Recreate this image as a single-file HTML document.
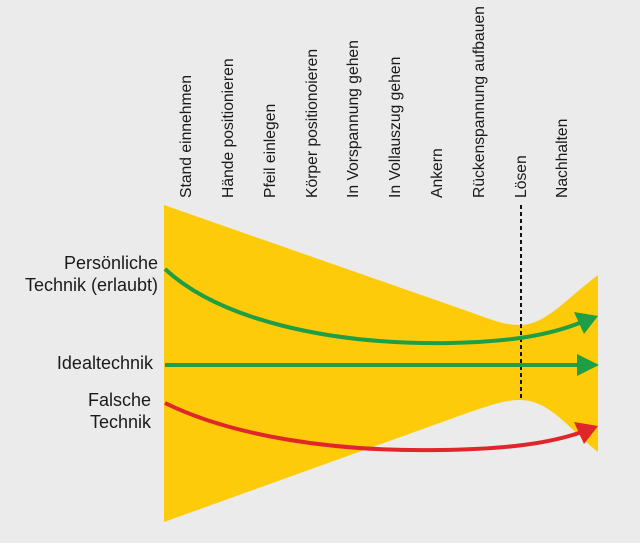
<!DOCTYPE html>
<html><head><meta charset="utf-8"><style>
html,body{margin:0;padding:0;background:#ebebeb;}
svg{display:block;}
text{font-family:"Liberation Sans",sans-serif;fill:#1a1a1a;}
</style></head><body>
<svg width="640" height="543" viewBox="0 0 640 543">
<rect width="640" height="543" fill="#ebebeb"/>
<path d="M164,205 L470,312 C495,321 505,325 520,325 C545,325 565,300 598,275 L598,452 C570,430 550,400 520,400 C505,400 495,404 470,412 L164,522 Z" fill="#fdcb0a"/>
<line x1="521" y1="205" x2="521" y2="400" stroke="#111" stroke-width="2" stroke-dasharray="4,3"/>
<path d="M165,269 C220,320 330,345 450,343 C510,342 550,335 582,322" fill="none" stroke="#1e9e45" stroke-width="4"/>
<polygon points="598,316 574,312 584,334" fill="#1e9e45"/>
<line x1="165" y1="365" x2="580" y2="365" stroke="#1e9e45" stroke-width="4"/>
<polygon points="599,365 577,354 577,376" fill="#1e9e45"/>
<path d="M165,403 C230,435 330,452 440,450 C510,449 550,443 582,432" fill="none" stroke="#e0262b" stroke-width="4"/>
<polygon points="598,426 574,422 584,444" fill="#e0262b"/>
<g font-size="15.7">
<text transform="translate(191,198) rotate(-90)">Stand einnehmen</text>
<text transform="translate(233,198) rotate(-90)">Hände positionieren</text>
<text transform="translate(275,198) rotate(-90)">Pfeil einlegen</text>
<text transform="translate(317,198) rotate(-90)">Körper positionoieren</text>
<text transform="translate(358,198) rotate(-90)">In Vorspannung gehen</text>
<text transform="translate(400,198) rotate(-90)">In Vollauszug gehen</text>
<text transform="translate(442,198) rotate(-90)">Ankern</text>
<text transform="translate(484,198) rotate(-90)">Rückenspannung aufbauen</text>
<text transform="translate(526,198) rotate(-90)">Lösen</text>
<text transform="translate(567,198) rotate(-90)">Nachhalten</text>
</g>
<g font-size="18" text-anchor="end">
<text x="158" y="269">Persönliche</text>
<text x="158" y="291">Technik (erlaubt)</text>
<text x="153" y="369">Idealtechnik</text>
<text x="151" y="406">Falsche</text>
<text x="151" y="428">Technik</text>
</g>
</svg>
</body></html>
